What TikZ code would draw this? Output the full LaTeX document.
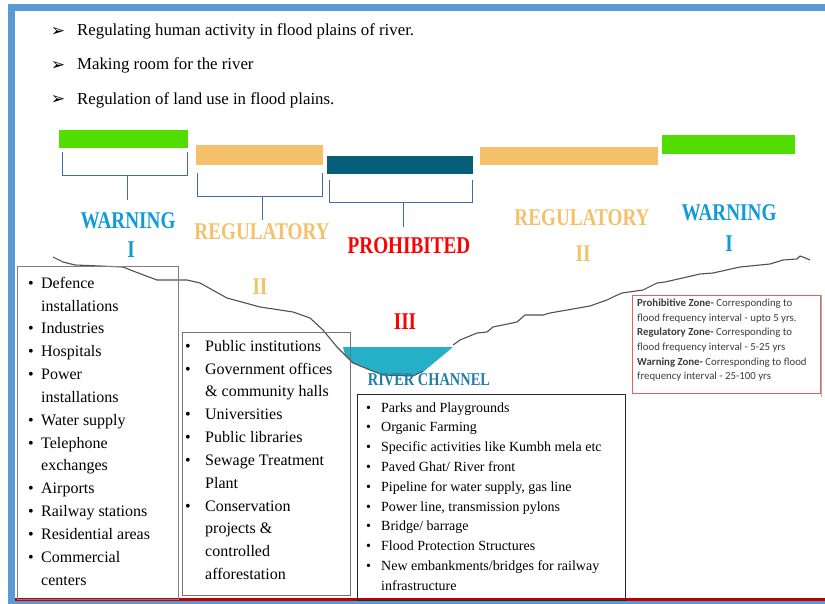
\documentclass[tikz,border=0pt]{standalone}
\usepackage{fontspec}
\setmainfont{Liberation Serif}
\newfontfamily\sansf{Carlito}
\newfontfamily\symf{DejaVu Sans}
\definecolor{framebl}{RGB}{91,155,213}
\definecolor{framered}{RGB}{192,0,0}
\definecolor{grn}{RGB}{82,221,0}
\definecolor{org}{RGB}{245,192,106}
\definecolor{tealbar}{RGB}{6,94,120}
\definecolor{brk}{RGB}{62,110,165}
\definecolor{warnc}{RGB}{14,155,215}
\definecolor{water}{RGB}{37,176,200}
\definecolor{rivtxt}{RGB}{31,126,166}
\definecolor{notered}{RGB}{225,95,95}
\definecolor{notetxt}{RGB}{60,60,60}
\definecolor{terr}{RGB}{80,80,80}
\tikzset{
  topitem/.style={anchor=base west, inner sep=0, font=\fontsize{16.8}{18}\selectfont},
  arrowmark/.style={inner sep=0, font=\symf\fontsize{17}{17}\selectfont},
  zlabel/.style={inner sep=0, font=\fontsize{24}{24}\selectfont\bfseries},
  brkline/.style={draw=brk, line width=1pt},
  frame/.style={draw, anchor=north west, inner sep=0},
  boxtext/.style={anchor=north west, inner sep=0, align=left},
}
\newcommand{\nar}[1]{\scalebox{0.8}[1]{#1}}
\begin{document}
\begin{tikzpicture}[x=1pt,y=-1pt]
\useasboundingbox (0,0) rectangle (825,604);
% frame
\fill[framebl] (8,4) rectangle (825,11);
\fill[framebl] (8,4) rectangle (15,604);
\fill[framebl] (8,601) rectangle (825,604);
\fill[framered] (15,597.5) rectangle (825,601);

% top bullets
\node[arrowmark] (a1) at (58,32) {➢};
\node[arrowmark] (a2) at (58,66) {➢};
\node[arrowmark] (a3) at (58,100) {➢};
\node[topitem] (t1) at (77,36) {Regulating human activity in flood plains of river.};
\node[topitem] (t2) at (77,70) {Making room for the river};
\node[topitem] (t3) at (77,105) {Regulation of land use in flood plains.};

% bars
\fill[grn] (59,130) rectangle (188,148);
\fill[org] (196,145) rectangle (323,165);
\fill[tealbar] (327,156) rectangle (473,174);
\fill[org] (480,147) rectangle (658,165);
\fill[grn] (662,135) rectangle (795,154);

% brackets
\draw[brkline] (62,152) -- (62,176) -- (187,176) -- (187,152);
\draw[brkline] (127,176) -- (127,200);
\draw[brkline] (197,173) -- (197,197) -- (322,197) -- (322,173);
\draw[brkline] (262,197) -- (262,220);
\draw[brkline] (329,180) -- (329,203) -- (472,203) -- (472,180);
\draw[brkline] (403,203) -- (403,227);

% zone labels
\node[zlabel, text=warnc] (w1) at (128,221) {\nar{WARNING}};
\node[zlabel, text=warnc] (w1n) at (131,250) {\nar{I}};
\node[zlabel, text=org] (r1) at (262,232) {\nar{REGULATORY}};
\node[zlabel, text=org] (r1n) at (260,287) {\nar{II}};
\node[zlabel, text=red] (p) at (409,246) {\nar{PROHIBITED}};
\node[zlabel, text=red] (pn) at (405,322) {\nar{III}};
\node[zlabel, text=org] (r2) at (582,218) {\nar{REGULATORY}};
\node[zlabel, text=org] (r2n) at (583,254) {\nar{II}};
\node[zlabel, text=warnc] (w2) at (729,213) {\nar{WARNING}};
\node[zlabel, text=warnc] (w2n) at (729,244) {\nar{I}};

% water and terrain
\fill[water] (343,347) -- (453,347) -- (423,372) -- (413,376) -- (383,375) -- (370,370) -- (353,363) -- (345,355) -- cycle;
\draw[terr, line width=1.1pt, line join=round] (53,257) -- (63,262) -- (75,265) -- (100,266) -- (123,267) -- (133,271) -- (157,280) -- (187,280) -- (200,283) -- (227,298) -- (260,307) -- (293,312) -- (310,318) -- (323,330) -- (337,347) -- (345,355) -- (353,363) -- (370,370) -- (383,375) -- (413,376) -- (423,371);
\draw[terr, line width=1.1pt, line join=round] (453,345) -- (460,340) -- (477,333) -- (487,332) -- (493,327) -- (517,322) -- (525,315) -- (543,315) -- (550,313) -- (590,306) -- (607,300) -- (613,297) -- (622,293) -- (643,290) -- (657,283) -- (665,282) -- (687,277) -- (700,274) -- (713,273) -- (740,267) -- (770,264) -- (783,260) -- (797,259) -- (800,256) -- (803,257) -- (810,260);
\node[inner sep=0, text=rivtxt, font=\fontsize{18}{18}\selectfont\bfseries] (rc) at (429,380) {\nar{RIVER CHANNEL}};

% left box
\node[frame, draw=gray, line width=1.4pt, minimum width=161, minimum height=333] (lbox) at (17,266) {};
\node[boxtext, font=\fontsize{16}{22.85}\selectfont] (ltext) at (28,272) {%
\begin{tabular}{@{}p{13pt}@{}l@{}}
\textbullet & Defence\\
 & installations\\
\textbullet & Industries\\
\textbullet & Hospitals\\
\textbullet & Power\\
 & installations\\
\textbullet & Water supply\\
\textbullet & Telephone\\
 & exchanges\\
\textbullet & Airports\\
\textbullet & Railway stations\\
\textbullet & Residential areas\\
\textbullet & Commercial\\
 & centers
\end{tabular}};

% middle box
\node[frame, draw=gray!90!black, line width=1.1pt, minimum width=168, minimum height=263] (mbox) at (182,332) {};
\node[boxtext, font=\fontsize{16}{22.85}\selectfont] (mtext) at (185,335) {%
\begin{tabular}{@{}p{20pt}@{}l@{}}
\textbullet & Public institutions\\
\textbullet & Government offices\\
 & \& community halls\\
\textbullet & Universities\\
\textbullet & Public libraries\\
\textbullet & Sewage Treatment\\
 & Plant\\
\textbullet & Conservation\\
 & projects \&\\
 & controlled\\
 & afforestation
\end{tabular}};

% bottom box
\node[frame, draw=black!85, line width=0.9pt, minimum width=268, minimum height=206] (bbox) at (357,394) {};
\node[boxtext, font=\fontsize{14}{19.8}\selectfont] (btext) at (366,398) {%
\begin{tabular}{@{}p{15pt}@{}l@{}}
\textbullet & Parks and Playgrounds\\
\textbullet & Organic Farming\\
\textbullet & Specific activities like Kumbh mela etc\\
\textbullet & Paved Ghat/ River front\\
\textbullet & Pipeline for water supply, gas line\\
\textbullet & Power line, transmission pylons\\
\textbullet & Bridge/ barrage\\
\textbullet & Flood Protection Structures\\
\textbullet & New embankments/bridges for railway\\
 & infrastructure
\end{tabular}};

% note box
\draw[gray!60, line width=1pt] (821,295) -- (821,397);
\node[frame, draw=notered, line width=1pt, minimum width=188, minimum height=98] (nbox) at (632,295) {};
\node[boxtext, text=notetxt, font=\sansf\fontsize{10.8}{14.6}\selectfont] (ntext) at (637,299) {%
\textbf{Prohibitive Zone-} Corresponding to\\
flood frequency interval - upto 5 yrs.\\
\textbf{Regulatory Zone-} Corresponding to\\
flood frequency interval - 5-25 yrs\\
\textbf{Warning Zone-} Corresponding to flood\\
frequency interval - 25-100 yrs};
\end{tikzpicture}
\end{document}
